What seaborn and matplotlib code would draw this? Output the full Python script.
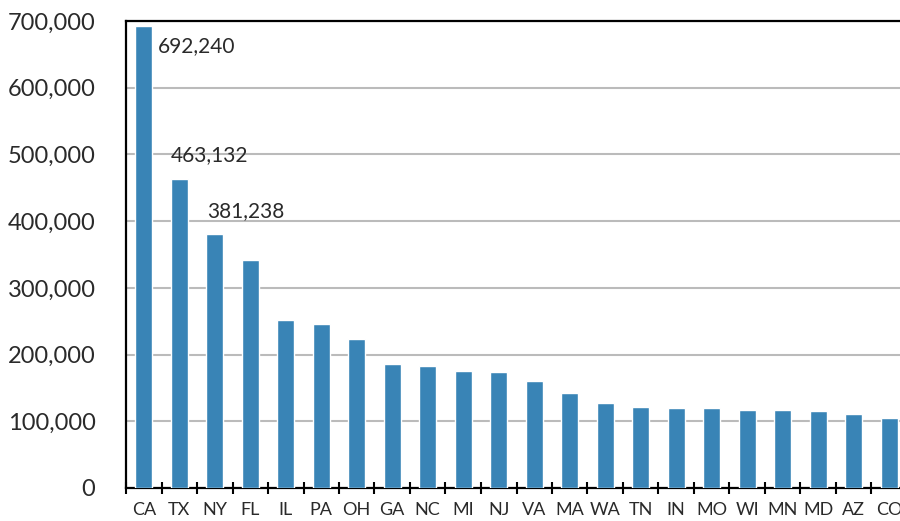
import matplotlib
matplotlib.use('Agg')
import matplotlib.pyplot as plt
import matplotlib.ticker as mticker
import seaborn as sns
import pandas as pd
import numpy as np

# Values (only the first three are labelled exactly)
states = ['CA', 'TX', 'NY', 'FL', 'IL', 'PA', 'OH', 'GA', 'NC', 'MI', 'NJ',
          'VA', 'MA', 'WA', 'TN', 'IN', 'MO', 'WI', 'MN', 'MD', 'AZ', 'CO']
values = [692240, 463132, 381238, 342000, 252000, 246000, 223000, 186000,
          183000, 175000, 174000, 160000, 142000, 127000, 121000, 120000,
          120000, 117000, 117000, 115500, 111000, 105000]
labelled = {'CA': (14, -20, 'left', 'center'),
            'TX': (-8, 24, 'left', 'center'),
            'NY': (-8, 23, 'left', 'center')}
y_ticks = [0, 100000, 200000, 300000, 400000, 500000, 600000, 700000]

df = pd.DataFrame({'State': states, 'Value': values})

sns.set_style('white')
plt.rcParams['font.family'] = ['Lato', 'DejaVu Sans']

fig = plt.figure(figsize=(9, 5.21), dpi=100)
ax = fig.add_axes([126 / 900, 33 / 521, 781 / 900, 467 / 521])

sns.barplot(data=df, x='State', y='Value', color='#3984b6', width=0.48,
            saturation=1, ax=ax, zorder=3)

ax.set_xlim(-0.5, len(states) - 0.5)
ax.set_ylim(0, 700000)
ax.set_yticks(y_ticks)
ax.yaxis.set_major_formatter(mticker.FuncFormatter(lambda v, p: f'{int(v):,}'))
ax.grid(axis='y', color='#bbbbbb', linewidth=1.5, zorder=0)
ax.set_axisbelow(True)

# tick marks sit between categories
ax.set_xticks(np.arange(-0.5, len(states), 1), minor=True)
ax.tick_params(axis='x', which='minor', direction='inout', length=8, width=1.5,
               color='black', bottom=True)
ax.tick_params(axis='x', which='major', length=0, labelsize=13, pad=10,
               labelcolor='#2a2a2a')
ax.tick_params(axis='y', length=0, labelsize=17, pad=22, labelcolor='#2a2a2a')

for side in ['left', 'bottom', 'top', 'right']:
    ax.spines[side].set_color('black')
    ax.spines[side].set_linewidth(1.6)

ax.set_xlabel('')
ax.set_ylabel('')

for i, (s, v) in enumerate(zip(states, values)):
    if s in labelled:
        dx, dy, ha, va = labelled[s]
        ax.annotate(f'{v:,}', xy=(i, v), xytext=(dx, dy),
                    textcoords='offset pixels', ha=ha, va=va,
                    fontsize=15, color='#2a2a2a')

plt.savefig('out.png', dpi=100)
plt.close()
